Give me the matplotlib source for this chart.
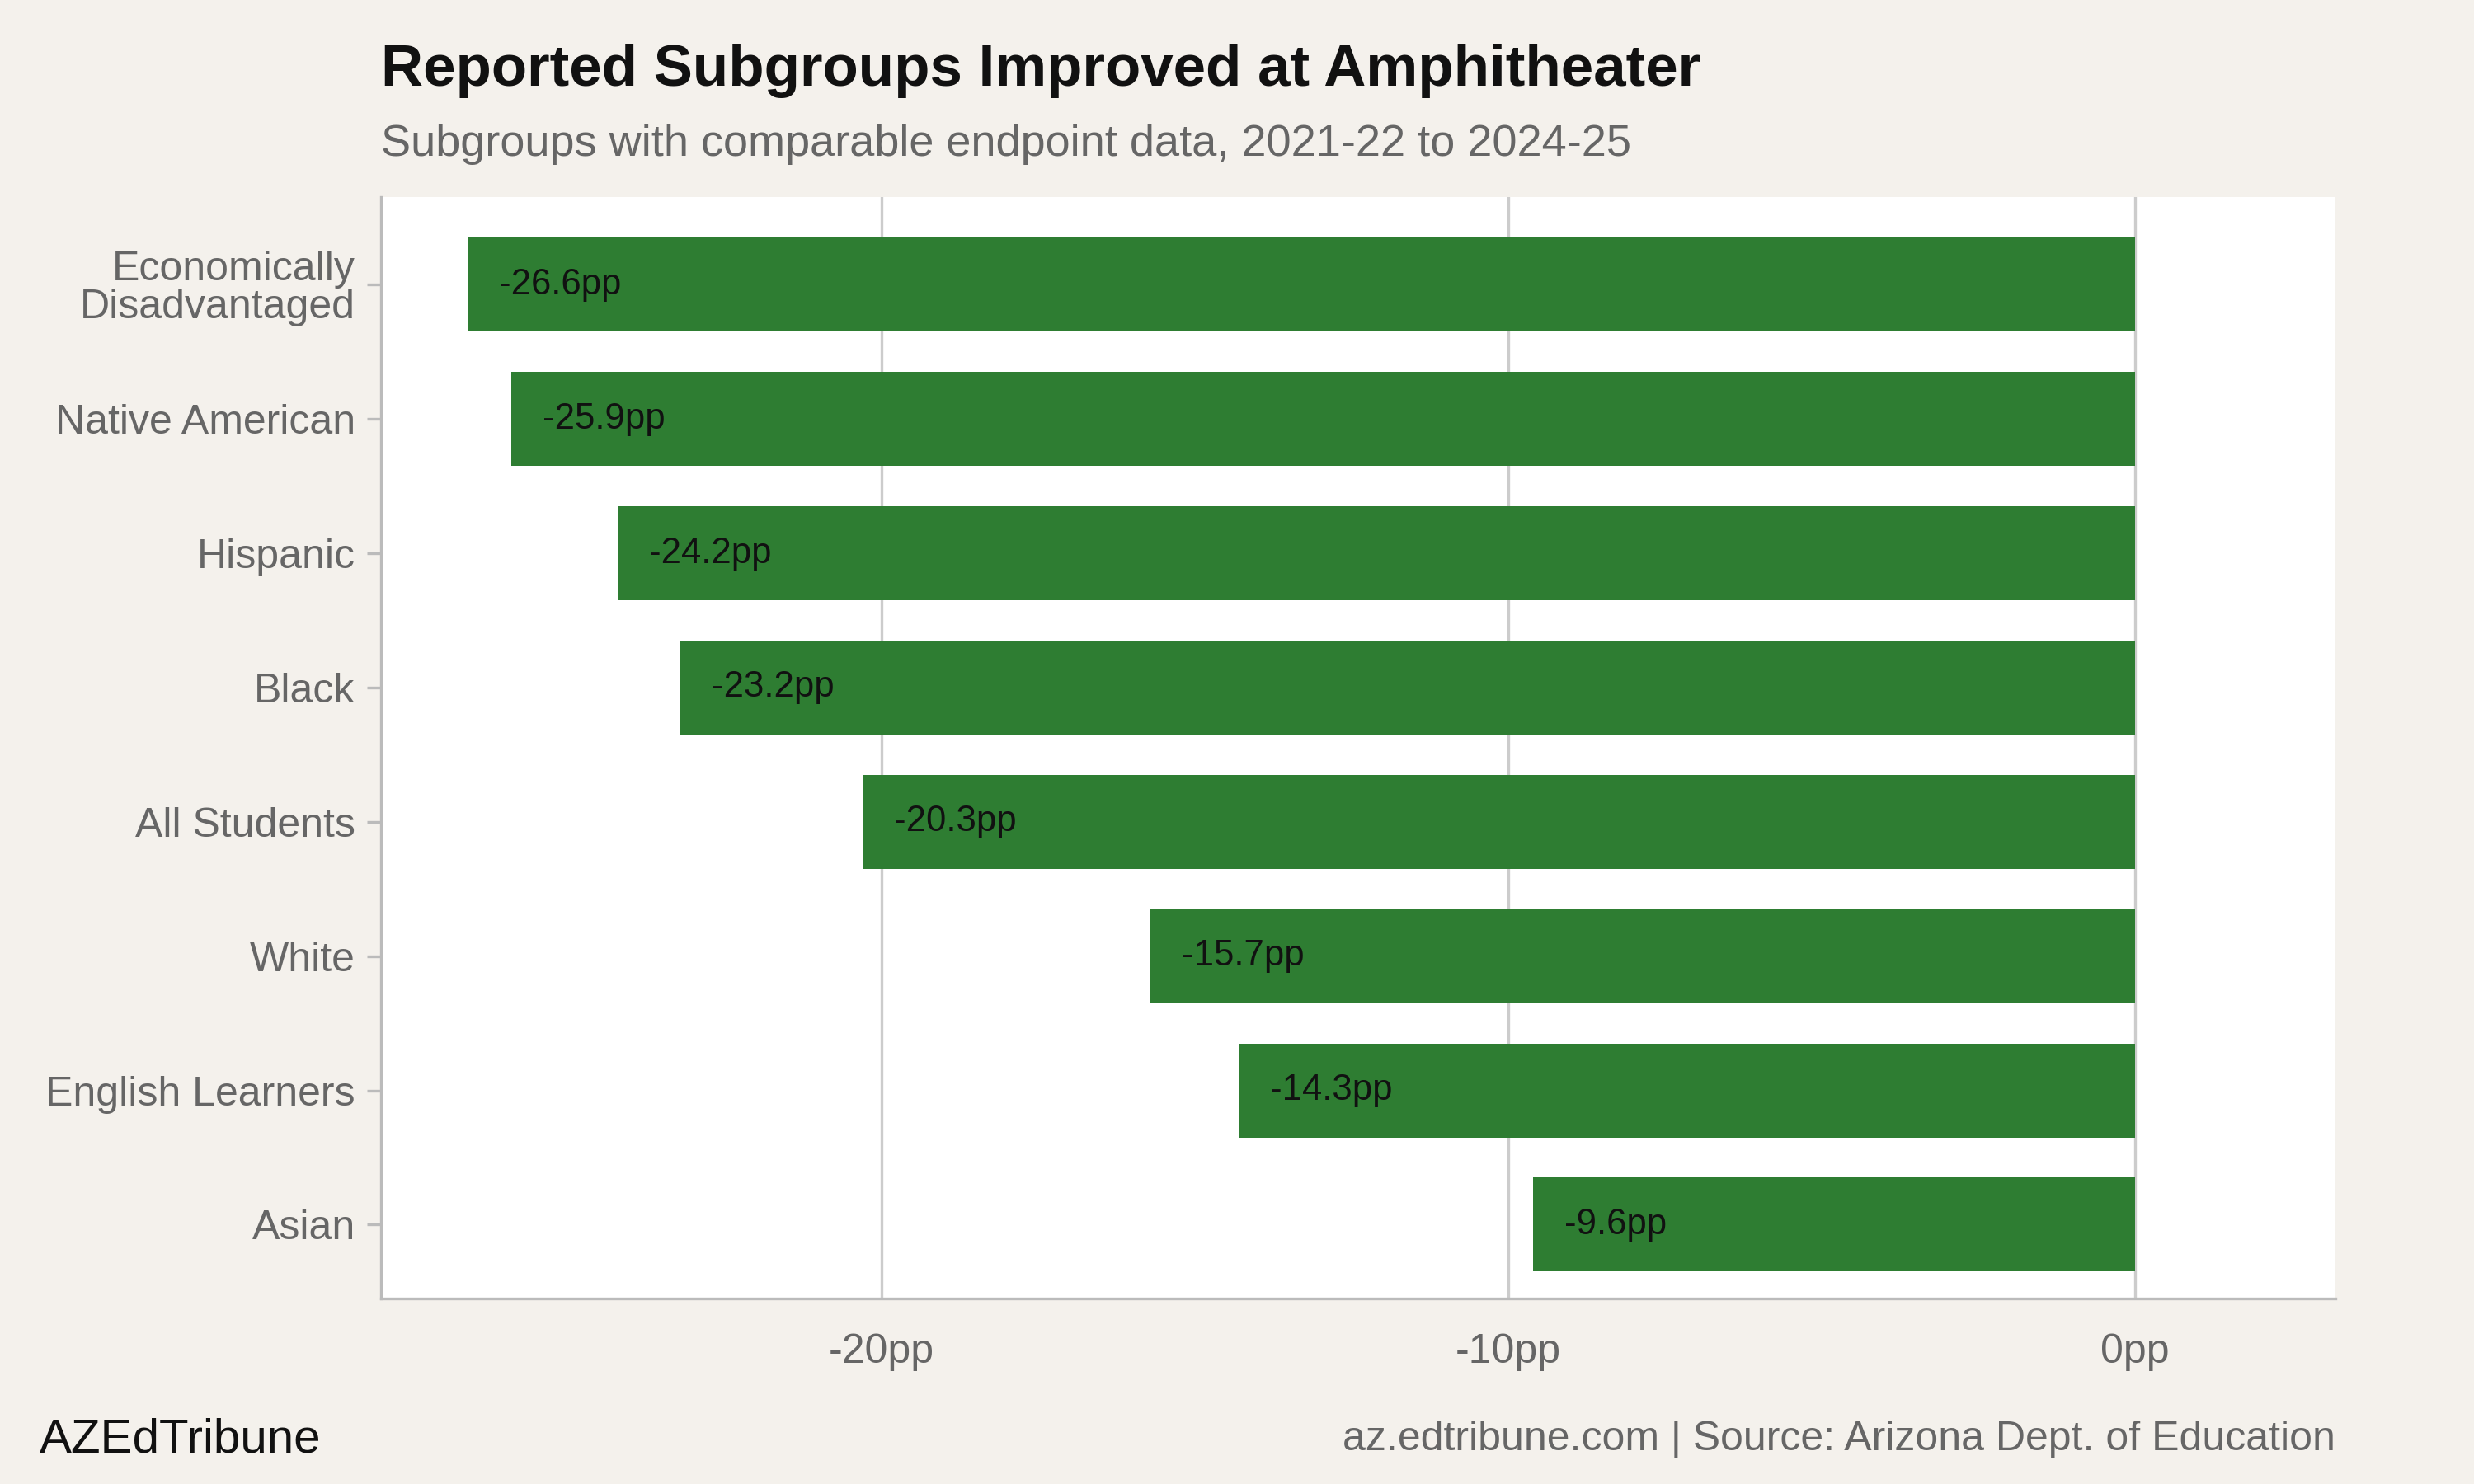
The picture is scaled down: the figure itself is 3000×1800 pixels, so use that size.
import matplotlib
matplotlib.use("Agg")
from matplotlib import pyplot as plt

plt.rcParams['font.family'] = ['Liberation Sans', 'DejaVu Sans']

groups = ["Economically\nDisadvantaged", "Native American", "Hispanic", "Black",
          "All Students", "White", "English Learners", "Asian"]
changes = [-26.6, -25.9, -24.2, -23.2, -20.3, -15.7, -14.3, -9.6]
ticks = [-20, -10, 0]
tick_labels = ["-20pp", "-10pp", "0pp"]

bg = "#f4f1ec"
green = "#2e7d32"
grey = "#666666"

fig = plt.figure(figsize=(10, 6), dpi=300, facecolor=bg)
ax = fig.add_axes([0.154, 0.125, 0.79, 0.742])
ax.set_facecolor("white")

y = list(range(len(groups)))
ax.barh(y, changes, height=0.7, color=green, zorder=3)
for yi, v in zip(y, changes):
    ax.text(v + 0.5, yi, f"{v:.1f}pp", va="center", ha="left", fontsize=10.5, color="#111111", zorder=4)

ax.set_yticks(y)
ax.set_yticklabels(groups, fontsize=12, color=grey, linespacing=1.0)
ax.set_ylim(len(groups) - 0.45, -0.65)
ax.set_xlim(-27.98, 3.2)
ax.set_xticks(ticks)
ax.set_xticklabels(tick_labels, fontsize=12, color=grey)
ax.grid(axis="x", color="#cccccc", linewidth=0.8, zorder=0)
ax.tick_params(axis="both", length=4, color="#bbbbbb")
ax.tick_params(axis="x", length=0, pad=10)
for s in ["top", "right"]:
    ax.spines[s].set_visible(False)
for s in ["left", "bottom"]:
    ax.spines[s].set_color("#bbbbbb")

fig.text(0.154, 0.952, "Reported Subgroups Improved at Amphitheater", fontsize=17,
         fontweight="bold", color="#111111", va="center")
fig.text(0.154, 0.903, "Subgroups with comparable endpoint data, 2021-22 to 2024-25",
         fontsize=13, color=grey, va="center")
fig.text(0.016, 0.03, "AZEdTribune", fontsize=14, color="#111111", va="center")
fig.text(0.944, 0.03, "az.edtribune.com | Source: Arizona Dept. of Education",
         fontsize=12, color=grey, va="center", ha="right")

fig.savefig("out.png", dpi=300, facecolor=bg)
